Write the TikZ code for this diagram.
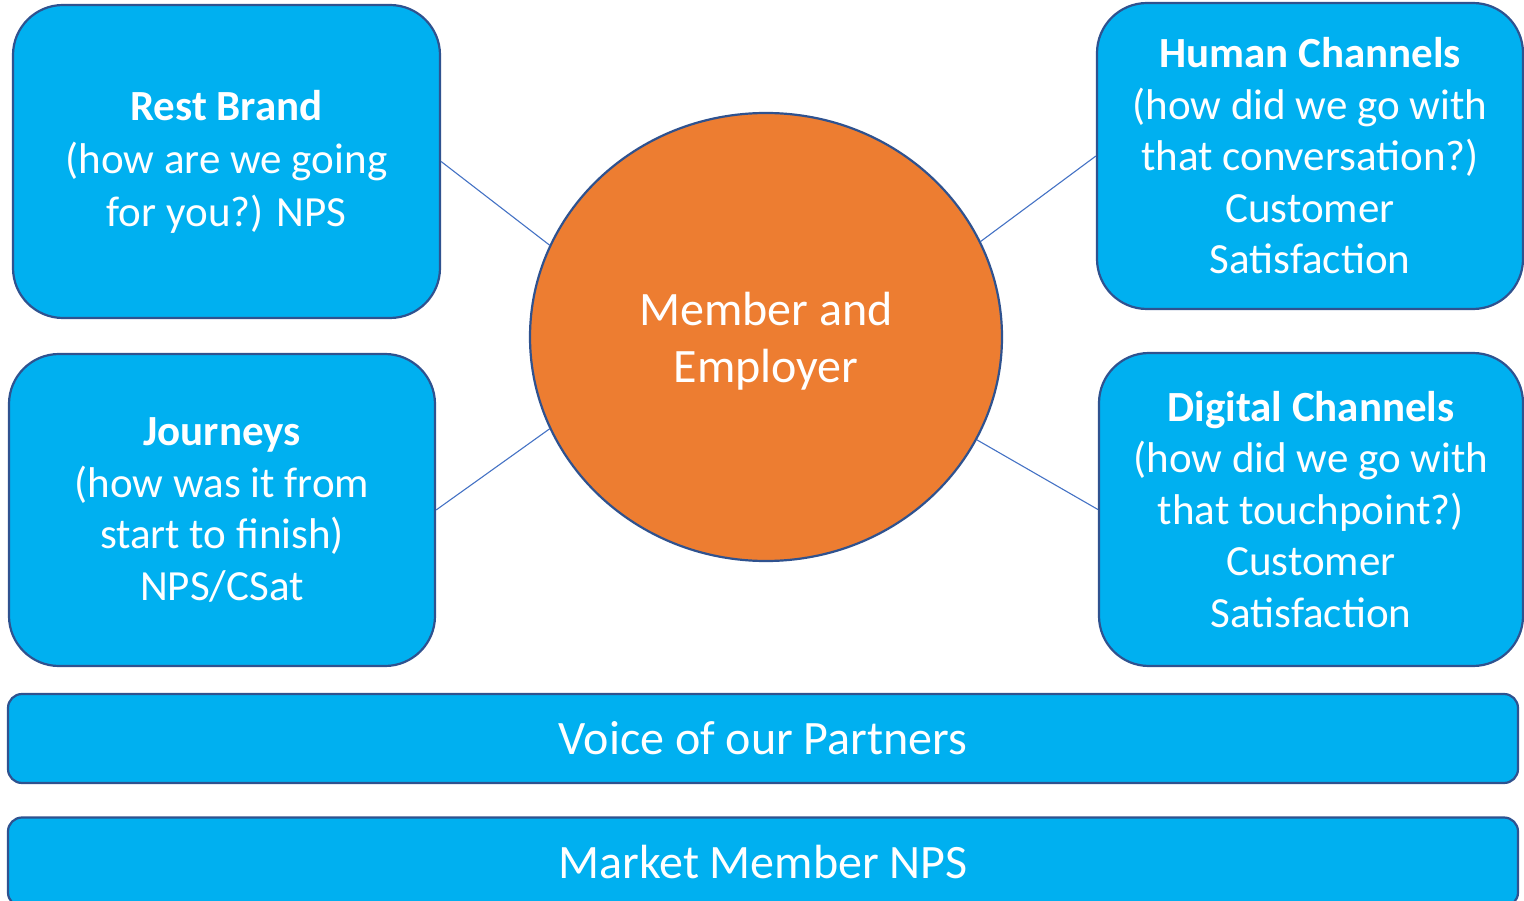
\documentclass[tikz,border=0pt]{standalone}
\usepackage{fontspec}
\setmainfont{Carlito}
\usetikzlibrary{shapes.geometric}
\definecolor{boxfill}{HTML}{00B0F0}
\definecolor{boxline}{HTML}{2F528F}
\definecolor{hubfill}{HTML}{ED7D31}
\definecolor{linkline}{HTML}{4472C4}
\begin{document}
\begin{tikzpicture}[x=1pt,y=-1pt,
  card/.style={draw=boxline, line width=2.2pt, fill=boxfill, rounded corners=50pt,
    inner sep=0pt, text=white, align=center,
    font=\fontsize{43}{53}\selectfont},
  bar/.style={draw=boxline, line width=2.2pt, fill=boxfill, rounded corners=14pt,
    minimum width=1510pt, minimum height=89pt, inner sep=0pt, text=white,
    font=\fontsize{48}{56}\selectfont},
  hub/.style={ellipse, draw=boxline, line width=2.2pt, fill=hubfill,
    minimum width=472pt, minimum height=448pt, inner sep=0pt, text=white,
    align=center, font=\fontsize{48}{57}\selectfont},
  link/.style={draw=linkline, line width=1.1pt}]
\useasboundingbox (0,0) rectangle (1524,901);

\node[hub] (hub) at (766,337) {};
\node[text=white, align=center, font=\fontsize{48}{57}\selectfont] (hubtext) at (766,341) {Member and\\Employer};

\node[card, minimum width=427pt, minimum height=313pt] (brand) at (226.5,161.5)
  {\textbf{Rest Brand}\\(how are we going\\for you?) NPS};
\node[card, minimum width=426pt, minimum height=306pt, font=\fontsize{43}{51.5}\selectfont] (human) at (1310,156)
  {\textbf{Human Channels}\\(how did we go with\\that conversation?)\\Customer\\Satisfaction};
\node[card, minimum width=426pt, minimum height=312pt, font=\fontsize{43}{51.5}\selectfont] (journeys) at (222,510)
  {\textbf{Journeys}\\(how was it from\\start to finish)\\NPS/CSat};
\node[card, minimum width=424pt, minimum height=313pt, font=\fontsize{43}{51.5}\selectfont] (digital) at (1311,509.5)
  {\textbf{Digital Channels}\\(how did we go with\\that touchpoint?)\\Customer\\Satisfaction};

\node[bar] (partners) at (763,738.5) {Voice of our Partners};
\node[bar] (market) at (763,862) {Market Member NPS};

\draw[link] (brand.east) -- (hub.157);
\draw[link] (human.west) -- (hub.24);
\draw[link] (journeys.east) -- (hub.203);
\draw[link] (digital.west) -- (hub.-26);
\end{tikzpicture}
\end{document}
